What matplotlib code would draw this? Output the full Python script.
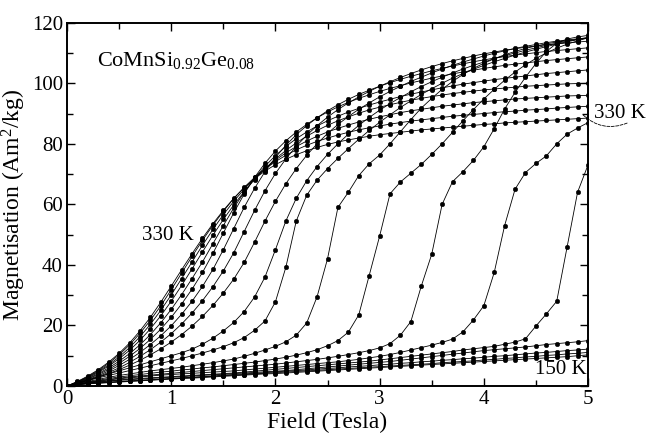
import matplotlib
matplotlib.use("Agg")
import matplotlib.pyplot as plt
from matplotlib.ticker import MultipleLocator

plt.rcParams['font.family'] = ['Liberation Serif', 'DejaVu Serif']
plt.rcParams['mathtext.fontset'] = 'custom'
plt.rcParams['mathtext.rm'] = 'Liberation Serif'
plt.rcParams['mathtext.it'] = 'Liberation Serif:italic'

# field steps of the sweeps (Tesla)
field = [0.0, 0.1, 0.2, 0.3, 0.4, 0.5, 0.6, 0.7, 0.8, 0.9,
         1.0, 1.1, 1.2, 1.3, 1.4, 1.5, 1.6, 1.7, 1.8, 1.9,
         2.0, 2.1, 2.2, 2.3, 2.4, 2.5, 2.6, 2.7, 2.8, 2.9,
         3.0, 3.1, 3.2, 3.3, 3.4, 3.5, 3.6, 3.7, 3.8, 3.9,
         4.0, 4.1, 4.2, 4.3, 4.4, 4.5, 4.6, 4.7, 4.8, 4.9, 5.0]

# magnetisation (Am2/kg)
# first curve = 330 K (leftmost at low field), last curve = 150 K (bottom)
m01 = [0, 1.5, 3.3, 5.4, 7.9, 10.8, 14.2, 18.2, 22.7, 27.7,
       33.0, 38.4, 43.7, 48.8, 53.6, 58.0, 62.0, 65.5, 68.5, 71.0,
       73.1, 74.9, 76.4, 77.7, 78.8, 79.8, 80.6, 81.3, 81.9, 82.5,
       83.0, 83.4, 83.8, 84.2, 84.6, 84.9, 85.2, 85.5, 85.8, 86.1,
       86.4, 86.6, 86.9, 87.1, 87.3, 87.5, 87.7, 87.9, 88.1, 88.3, 88.5]
m02 = [0, 1.4, 3.1, 5.1, 7.5, 10.3, 13.6, 17.4, 21.7, 26.5,
       31.8, 37.3, 42.8, 48.1, 53.1, 57.7, 61.9, 65.6, 68.9, 71.7,
       74.1, 76.2, 78.0, 79.5, 80.8, 81.9, 82.9, 83.8, 84.6, 85.3,
       85.9, 86.5, 87.0, 87.5, 87.9, 88.3, 88.7, 89.1, 89.4, 89.7,
       90.0, 90.3, 90.6, 90.8, 91.1, 91.3, 91.5, 91.8, 92.0, 92.2, 92.4]
m03 = [0, 1.3, 2.9, 4.8, 7.0, 9.6, 12.7, 16.3, 20.4, 25.0,
       30.1, 35.5, 41.0, 46.5, 51.7, 56.6, 61.0, 65.0, 68.6, 71.8,
       74.6, 77.0, 79.1, 80.9, 82.5, 83.9, 85.1, 86.2, 87.2, 88.1,
       88.9, 89.6, 90.3, 90.9, 91.4, 91.9, 92.4, 92.8, 93.2, 93.6,
       93.9, 94.2, 94.5, 94.8, 95.0, 95.2, 95.4, 95.6, 95.8, 95.9, 96.0]
m04 = [0, 1.2, 2.7, 4.5, 6.6, 9.0, 11.8, 15.1, 18.9, 23.2,
       28.0, 33.2, 38.7, 44.3, 49.8, 55.0, 59.8, 64.2, 68.2, 71.8,
       75.0, 77.8, 80.3, 82.5, 84.4, 86.1, 87.6, 88.9, 90.1, 91.2,
       92.1, 92.9, 93.7, 94.4, 95.0, 95.6, 96.1, 96.6, 97.0, 97.4,
       97.8, 98.1, 98.4, 98.7, 99.0, 99.2, 99.4, 99.6, 99.8, 99.9, 100.0]
m05 = [0, 1.1, 2.5, 4.1, 6.0, 8.2, 10.7, 13.6, 17.0, 20.9,
       25.3, 30.2, 35.5, 41.0, 47.0, 53.0, 58.8, 64.0, 68.6, 72.6,
       76.1, 79.1, 81.7, 83.9, 85.9, 87.6, 89.1, 90.5, 91.7, 92.8,
       93.8, 94.7, 95.6, 96.4, 97.1, 97.8, 98.5, 99.1, 99.7, 100.2,
       100.7, 101.2, 101.6, 102.0, 102.4, 102.8, 103.2, 103.5, 103.8, 104.1, 104.4]
m06 = [0, 1.0, 2.3, 3.8, 5.5, 7.5, 9.8, 12.4, 15.4, 18.8,
       22.7, 27.1, 32.0, 37.5, 43.8, 50.5, 57.2, 63.4, 68.9, 73.6,
       77.6, 81.0, 83.9, 86.4, 88.6, 90.5, 92.2, 93.7, 95.0, 96.2,
       97.3, 98.3, 99.2, 100.1, 100.9, 101.7, 102.4, 103.1, 103.7, 104.3,
       104.9, 105.4, 105.9, 106.3, 106.7, 107.1, 107.5, 107.8, 108.1, 108.4, 108.7]
m07 = [0, 0.9, 2.1, 3.4, 5.0, 6.8, 8.8, 11.1, 13.7, 16.6,
       19.9, 23.7, 28.0, 32.9, 38.5, 45.0, 52.0, 59.0, 65.3, 70.8,
       75.5, 79.5, 83.0, 86.0, 88.6, 90.9, 92.9, 94.7, 96.3, 97.7,
       99.0, 100.2, 101.3, 102.3, 103.2, 104.1, 104.9, 105.7, 106.4, 107.1,
       107.7, 108.3, 108.8, 109.3, 109.7, 110.1, 110.5, 110.8, 111.1, 111.4, 111.7]
m08 = [0, 0.9, 1.9, 3.1, 4.5, 6.0, 7.8, 9.8, 12.0, 14.5,
       17.3, 20.5, 24.1, 28.2, 32.8, 38.0, 44.0, 51.0, 58.0, 64.5,
       70.2, 75.0, 79.2, 82.8, 86.0, 88.8, 91.3, 93.5, 95.5, 97.3,
       99.0, 100.5, 101.9, 103.2, 104.4, 105.5, 106.5, 107.4, 108.2, 109.0,
       109.7, 110.3, 110.9, 111.4, 111.9, 112.3, 112.7, 113.0, 113.3, 113.6, 113.9]
m09 = [0, 0.8, 1.8, 2.9, 4.1, 5.4, 6.9, 8.5, 10.3, 12.3,
       14.5, 17.0, 19.8, 23.0, 26.6, 30.7, 35.3, 40.8, 47.5, 54.5,
       61.0, 66.8, 71.8, 76.2, 80.0, 83.4, 86.4, 89.0, 91.4, 93.5,
       95.5, 97.3, 99.0, 100.6, 102.0, 103.4, 104.7, 105.9, 107.0, 108.0,
       109.0, 109.9, 110.7, 111.5, 112.2, 112.8, 113.4, 113.9, 114.3, 114.7, 115.0]
m10 = [0, 1.0, 2.0, 3.0, 4.0, 5.0, 6.0, 7.0, 8.0, 9.0,
       10.0, 11.0, 12.2, 13.8, 15.8, 18.2, 21.0, 24.6, 29.4, 36.0,
       45.0, 54.5, 62.0, 67.8, 72.5, 76.5, 80.0, 83.2, 86.1, 88.7,
       91.1, 93.3, 95.3, 97.2, 98.9, 100.5, 102.0, 103.4, 104.7, 105.9,
       107.0, 108.1, 109.1, 110.0, 110.9, 111.7, 112.5, 113.2, 113.9, 114.5, 115.1]
m11 = [0, 0.9, 1.8, 2.7, 3.5, 4.3, 5.1, 5.9, 6.7, 7.5,
       8.3, 9.1, 10.0, 10.9, 11.9, 13.0, 14.3, 16.0, 18.4, 21.5,
       27.8, 39.2, 54.5, 63.0, 68.0, 71.8, 75.2, 78.4, 81.5, 84.4,
       87.1, 89.6, 92.0, 94.2, 96.3, 98.2, 100.0, 101.7, 103.2, 104.6,
       105.9, 107.1, 108.2, 109.3, 110.3, 111.2, 112.1, 112.9, 113.7, 114.4, 115.0]
m12 = [0, 0.8, 1.5, 2.2, 2.9, 3.5, 4.0, 4.5, 5.0, 5.4,
       5.8, 6.2, 6.7, 7.2, 7.7, 8.3, 8.9, 9.8, 10.8, 11.9,
       13.1, 14.6, 16.8, 20.8, 29.5, 42.0, 59.0, 64.0, 69.5, 73.4,
       76.3, 80.0, 84.0, 88.0, 91.8, 95.0, 98.0, 100.6, 102.9, 104.9,
       106.6, 108.1, 109.4, 110.5, 111.5, 112.3, 113.0, 113.6, 114.1, 114.5, 114.9]
m13 = [0, 0.7, 1.3, 1.9, 2.5, 3.0, 3.4, 3.8, 4.2, 4.6,
       4.9, 5.3, 5.6, 6.0, 6.3, 6.7, 7.1, 7.5, 7.9, 8.4,
       8.9, 9.5, 10.2, 11.0, 12.0, 13.3, 15.0, 17.8, 23.5, 36.5,
       49.5, 63.5, 67.4, 70.3, 73.2, 76.5, 80.0, 83.8, 87.6, 91.3,
       94.8, 98.0, 101.0, 103.7, 106.1, 108.2, 110.0, 111.6, 112.9, 114.0, 115.0]
m14 = [0, 0.6, 1.2, 1.7, 2.2, 2.6, 3.0, 3.3, 3.6, 3.9,
       4.2, 4.5, 4.8, 5.1, 5.4, 5.7, 6.0, 6.3, 6.6, 6.9,
       7.2, 7.6, 8.0, 8.4, 8.8, 9.3, 9.8, 10.4, 11.0, 11.7,
       12.6, 14.0, 16.8, 21.3, 33.0, 43.5, 60.0, 67.5, 70.8, 74.5,
       79.0, 85.0, 91.5, 97.0, 102.0, 106.5, 110.5, 113.2, 114.6, 115.3, 115.8]
m15 = [0, 0.6, 1.1, 1.6, 2.0, 2.4, 2.7, 3.0, 3.3, 3.6,
       3.8, 4.0, 4.2, 4.4, 4.6, 4.8, 5.0, 5.3, 5.6, 5.9,
       6.2, 6.5, 6.8, 7.1, 7.4, 7.7, 8.0, 8.4, 8.8, 9.3,
       9.8, 10.4, 11.1, 11.9, 12.7, 13.5, 14.4, 15.5, 17.9, 21.8,
       26.5, 37.5, 53.0, 65.0, 70.5, 73.5, 76.0, 80.0, 83.2, 85.2, 87.0]
m16 = [0, 0.5, 1.0, 1.4, 1.7, 2.0, 2.3, 2.5, 2.7, 2.9,
       3.1, 3.3, 3.5, 3.7, 3.9, 4.1, 4.3, 4.6, 4.9, 5.2,
       5.5, 5.8, 6.1, 6.4, 6.7, 7.0, 7.3, 7.6, 7.9, 8.2,
       8.6, 9.0, 9.4, 9.8, 10.2, 10.6, 11.0, 11.4, 11.9, 12.3,
       12.7, 13.1, 13.8, 14.5, 15.6, 19.8, 23.8, 28.0, 46.0, 64.0, 73.0]
m17 = [0, 0.5, 0.9, 1.3, 1.6, 1.9, 2.1, 2.3, 2.5, 2.7,
       2.9, 3.1, 3.3, 3.5, 3.7, 3.9, 4.1, 4.3, 4.5, 4.7,
       4.9, 5.1, 5.4, 5.7, 6.0, 6.3, 6.6, 6.9, 7.2, 7.5,
       7.8, 8.1, 8.5, 8.9, 9.3, 9.7, 10.1, 10.5, 10.9, 11.3,
       11.7, 12.0, 12.3, 12.6, 12.9, 13.3, 13.7, 14.0, 14.3, 14.6, 15.0]
m18 = [0, 0.6, 0.9, 1.1, 1.3, 1.5, 1.7, 1.9, 2.1, 2.3,
       2.5, 2.7, 2.9, 3.1, 3.3, 3.6, 3.8, 4.0, 4.2, 4.4,
       4.7, 4.9, 5.1, 5.3, 5.6, 5.8, 6.0, 6.3, 6.5, 6.7,
       7.0, 7.2, 7.5, 7.7, 8.0, 8.2, 8.5, 8.7, 9.0, 9.2,
       9.5, 9.8, 10.0, 10.3, 10.6, 10.9, 11.1, 11.4, 11.7, 11.9, 12.2]
m19 = [0, 0.5, 0.8, 1.0, 1.2, 1.4, 1.6, 1.8, 2.0, 2.2,
       2.4, 2.6, 2.8, 3.0, 3.2, 3.4, 3.6, 3.8, 4.0, 4.2,
       4.4, 4.6, 4.8, 5.0, 5.2, 5.4, 5.6, 5.8, 6.0, 6.2,
       6.4, 6.6, 6.8, 7.0, 7.2, 7.4, 7.7, 7.9, 8.1, 8.3,
       8.6, 8.8, 9.1, 9.3, 9.6, 9.8, 10.1, 10.3, 10.6, 10.8, 11.1]
m20 = [0, 0.4, 0.7, 0.9, 1.1, 1.3, 1.5, 1.7, 1.9, 2.1,
       2.3, 2.5, 2.6, 2.8, 3.0, 3.2, 3.4, 3.6, 3.8, 4.0,
       4.1, 4.3, 4.5, 4.7, 4.9, 5.1, 5.3, 5.5, 5.7, 5.9,
       6.1, 6.3, 6.5, 6.7, 6.9, 7.1, 7.3, 7.5, 7.7, 7.9,
       8.1, 8.3, 8.5, 8.7, 8.9, 9.1, 9.3, 9.5, 9.7, 10.0, 10.3]

curves = [m01, m02, m03, m04, m05, m06, m07, m08, m09, m10,
          m11, m12, m13, m14, m15, m16, m17, m18, m19, m20]

fig = plt.figure(figsize=(6.47, 4.33), dpi=100)
ax = fig.add_axes([0.1036, 0.1085, 0.8052, 0.8391])

for m in curves:
    ax.plot(field, m, color='black', lw=0.6, marker='o', ms=3.3,
            mfc='black', mec='black', mew=0.3)

ax.set_xlim(0, 5)
ax.set_ylim(0, 120)
ax.xaxis.set_major_locator(MultipleLocator(1))
ax.xaxis.set_minor_locator(MultipleLocator(0.5))
ax.yaxis.set_major_locator(MultipleLocator(20))
ax.yaxis.set_minor_locator(MultipleLocator(10))
ax.tick_params(which='both', direction='in', top=True, right=True,
               labelsize=15, width=1.0, pad=3)
ax.tick_params(which='major', length=6)
ax.tick_params(which='minor', length=4)
for s in ax.spines.values():
    s.set_linewidth(1.4)

ax.set_xlabel('Field (Tesla)', fontsize=17, labelpad=2)
ax.set_ylabel('Magnetisation (Am$^2$/kg)', fontsize=17, labelpad=3)

ax.text(0.29, 107.5, 'CoMnSi$_{0.92}$Ge$_{0.08}$', fontsize=16, va='center')
ax.text(0.72, 49.8, '330 K', fontsize=15, va='center')
ax.text(4.99, 5.3, '150 K', fontsize=15, va='center', ha='right')
ax.text(5.06, 90.0, '330 K', fontsize=15, va='center', clip_on=False)
ax.annotate('', xy=(4.93, 90.3), xytext=(5.4, 87.2), annotation_clip=False,
            arrowprops=dict(arrowstyle='-', ls='--', lw=0.6,
                            connectionstyle='arc3,rad=-0.35'))

fig.savefig('out.png', dpi=100)
